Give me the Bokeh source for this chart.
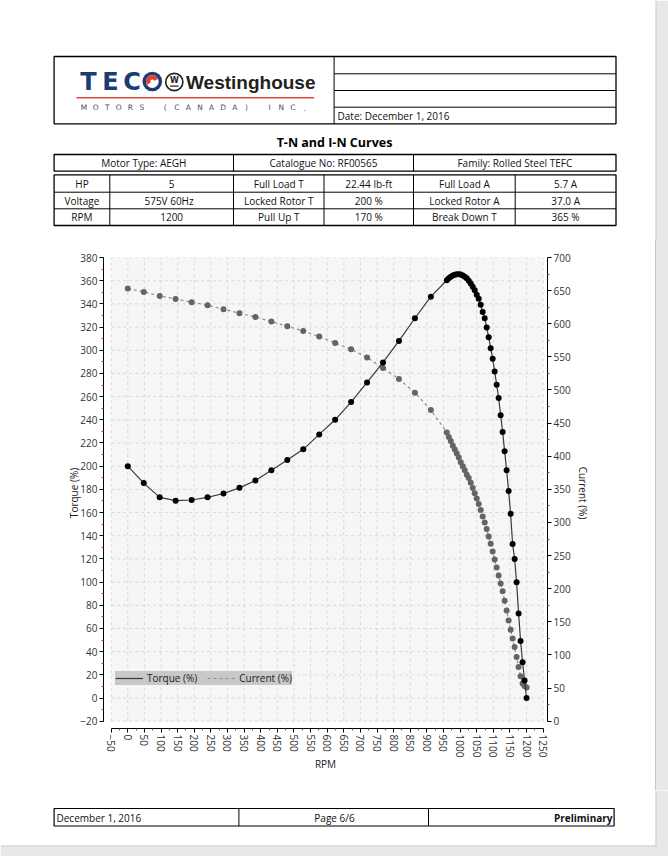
from bokeh.plotting import figure
from bokeh.models import Range1d, LinearAxis, FixedTicker, BoxAnnotation, Legend, LegendItem
from bokeh.embed import file_html
from bokeh.resources import INLINE
from bokeh.core.properties import value

FONT = "Open Sans"

# ---------------- data ----------------
rpm = [0, 48, 96, 144, 192, 240, 288, 336, 384, 432, 480, 528, 576, 624, 672, 720, 768, 816, 864, 912,
       960, 966, 972, 978, 984, 990, 996, 1002, 1008, 1014, 1020, 1026, 1032, 1038, 1044, 1050, 1056,
       1062, 1068, 1074, 1080, 1086, 1092, 1098, 1104, 1110, 1116, 1122, 1128, 1134, 1140, 1146, 1152,
       1158, 1164, 1170, 1176, 1182, 1188, 1194, 1200]

torque_pct = [200.0, 185.4, 173.1, 170.2, 170.8, 173.1, 176.4, 181.3, 187.6, 196.4, 205.3, 214.5, 227.4,
              240.0, 255.3, 272.2, 289.5, 308.0, 327.6, 346.2,
              360.4, 362.2, 363.3, 364.5, 365.1, 365.6, 365.6, 365.3, 364.5, 363.3, 362.2, 359.9, 357.6,
              354.7, 351.8, 347.8, 344.4, 339.2, 332.9, 327.7, 319.7, 311.3, 301.8, 292.7, 281.7, 270.3,
              258.7, 244.0, 229.4, 212.8, 196.4, 178.5, 159.0, 132.9, 119.9, 99.8, 72.8, 49.2, 30.9,
              15.1, 0.0]

current_pct = [653.2, 648.0, 642.0, 637.5, 632.5, 628.0, 622.0, 616.0, 610.0, 603.3, 596.2, 589.1, 580.6,
               571.0, 561.5, 549.0, 533.2, 516.6, 496.0, 469.8,
               436, 429, 423, 416, 410, 404, 398, 391, 385, 379, 372, 367, 360, 352, 344, 336, 328, 319,
               309, 300, 290, 279, 268, 256, 244, 232, 220, 208, 196, 182, 167, 152, 138, 125, 112, 97,
               82, 68, 57, 53, 51]

x_ticks = list(range(-50, 1251, 50))
x_minor = list(range(-25, 1250, 50))
torque_ticks = list(range(-20, 381, 20))
torque_minor = list(range(-10, 380, 20))
current_ticks = list(range(0, 701, 50))
current_minor = list(range(25, 700, 50))

series_names = ["Torque (%)", "Current (%)"]

title_text = "T-N and I-N Curves"
date_text = "Date: December 1, 2016"
table1 = ["Motor Type: AEGH", "Catalogue No: RF00565", "Family: Rolled Steel TEFC"]
table2 = [
    ["HP", "5", "Full Load T", "22.44 lb-ft", "Full Load A", "5.7 A"],
    ["Voltage", "575V   60Hz", "Locked Rotor T", "200 %", "Locked Rotor A", "37.0 A"],
    ["RPM", "1200", "Pull Up T", "170 %", "Break Down T", "365 %"],
]
footer = ["December 1, 2016", "Page 6/6", "Preliminary"]

# ---------------- helpers ----------------
PW = 668
BAND_X = 656      # start of the grey page edge (right)
BAND_Y = 846      # start of the grey page edge (bottom)
BAND_C = "#e8e8e8"
EDGE_C = "#c4c4c4"


def page_fig(y_top, y_bot):
    p = figure(width=PW, height=y_bot - y_top, x_range=Range1d(0, PW), y_range=Range1d(y_bot, y_top),
               toolbar_location=None, output_backend="svg", x_axis_type=None, y_axis_type=None,
               min_border=0, outline_line_color=None, title=None)
    p.background_fill_color = "white"
    p.border_fill_color = "white"
    p.grid.visible = False
    p.quad(left=[BAND_X], right=[PW], top=[y_top], bottom=[y_bot], fill_color=BAND_C, line_color=None)
    p.segment(x0=[BAND_X - 0.5], y0=[y_top], x1=[BAND_X - 0.5], y1=[min(y_bot, BAND_Y)],
              line_color=EDGE_C, line_width=1)
    return p


def txt(p, xs, ys, texts, size="10px", align="center", style="normal", color="#111111",
        font=FONT, baseline="middle"):
    p.text(x=xs, y=ys, text=texts, text_font=value(font), text_font_size=size, text_align=align,
           text_baseline=baseline, text_font_style=style, text_color=color)


def hline(p, x0, x1, y, w=1.0, c="black"):
    p.segment(x0=[x0], y0=[y], x1=[x1], y1=[y], line_color=c, line_width=w)


def vline(p, x, y0, y1, w=1.0, c="black"):
    p.segment(x0=[x], y0=[y0], x1=[x], y1=[y1], line_color=c, line_width=w)


def box(p, l, r, t, b, w=1.2):
    p.quad(left=[l], right=[r], top=[t], bottom=[b], fill_color=None, line_color="black", line_width=w)


# ---------------- header ----------------
hdr = page_fig(0, 240)
L, R = 53.6, 615.5
box(hdr, L, R, 56, 123.3, 1.3)
vline(hdr, 333.6, 56, 123.3)
for yy in [73.3, 90, 106.7]:
    hline(hdr, 333.6, R, yy)
txt(hdr, [337], [115], [date_text], align="left")

# logo
navy = "#1b3c74"
txt(hdr, [88, 110, 131.5], [81.5, 81.5, 81.5], ["T", "E", "C"], size="24px", style="bold",
    color=navy, font="DejaVu Sans")
hdr.circle(x=[151.8], y=[81], radius=9.8, fill_color=navy, line_color=None)
hdr.circle(x=[151.8], y=[81], radius=6.4, fill_color="white", line_color=None)
hdr.annular_wedge(x=[151.8], y=[81], inner_radius=2.0, outer_radius=6.4, start_angle=0.4, end_angle=3.7,
                  fill_color="#e2412f", line_color=None)
hdr.circle(x=[173.8], y=[81.5], radius=8.6, fill_color=None, line_color="#222222", line_width=1.6)
txt(hdr, [173.8], [80.0], ["W"], size="8px", style="bold", color="#222222", font="DejaVu Sans")
hline(hdr, 169.5, 178.1, 85.6, 1.2, "#222222")
txt(hdr, [185.5], [81.5], ["Westinghouse"], size="19px", style="bold", align="left",
    color="#231f20", font="Liberation Sans")
hline(hdr, 76, 313.6, 97.3, 1.6, "#e0453a")
motors = list("MOTORS (CANADA) INC.")
mx = [83.5 + i * 11.6 for i in range(len(motors))]
txt(hdr, mx, [107] * len(motors), motors, size="7.5px", color="#505050", font="DejaVu Sans")

# title
txt(hdr, [334], [141.7], [title_text], size="12.5px", style="bold", color="black")

# table 1
box(hdr, L, R, 154, 170.7, 1.3)
for xx in [233, 413]:
    vline(hdr, xx, 154, 170.7)
txt(hdr, [143.3, 323, 514.3], [162.6] * 3, table1)

# table 2
cols = [L, 109.3, 233, 323.5, 413, 514.7, R]
rows = [174.3, 191.7, 208.3, 225]
box(hdr, L, R, rows[0], rows[-1], 1.3)
for xx in cols[1:-1]:
    vline(hdr, xx, rows[0], rows[-1])
for yy in rows[1:-1]:
    hline(hdr, L, R, yy)
for ri, row in enumerate(table2):
    yc = (rows[ri] + rows[ri + 1]) / 2 + 0.3
    xs = [(cols[i] + cols[i + 1]) / 2 for i in range(6)]
    txt(hdr, xs, [yc] * 6, row)

# ---------------- chart ----------------
CH_TOP, CH_BOT = 240, 790
PX0 = 127.3          # page x of rpm 0
SX = 432.0 / 1300.0  # px per rpm
SY = 463.7 / 400.0   # px per torque %
SC = 463.7 / 700.0   # px per current %
FL, FR, FT, FB = 103, 547, 257, 728   # frame in page coords
x_start = (FL - PX0) / SX
x_end = (FR - PX0) / SX
ty_start = -20 - (FB - 720.7) / SY
cy_start = 0 - (FB - 720.7) / SC

ch = figure(width=PW, height=CH_BOT - CH_TOP, x_range=Range1d(x_start, x_end),
            y_range=Range1d(ty_start, 380),
            toolbar_location=None, output_backend="svg", x_axis_type=None, y_axis_type=None,
            min_border_left=FL, min_border_right=PW - FR, min_border_top=FT - CH_TOP,
            min_border_bottom=CH_BOT - FB, outline_line_color=None, title=None,
            styles={"background": "linear-gradient(to right, #ffffff 0px, #ffffff %dpx, %s %dpx, %s %dpx, %s %dpx)"
                    % (BAND_X - 1, EDGE_C, BAND_X - 1, EDGE_C, BAND_X, BAND_C, BAND_X)})
ch.background_fill_color = "white"
ch.border_fill_color = None
ch.extra_y_ranges = {"cur": Range1d(cy_start, 700)}


def style_axis(ax):
    ax.axis_line_color = "black"
    ax.axis_line_width = 1
    ax.major_tick_line_color = "black"
    ax.major_tick_out = 4
    ax.major_tick_in = 0
    ax.minor_tick_line_color = "#e03030"
    ax.minor_tick_out = 2
    ax.minor_tick_in = 0
    ax.major_label_text_font = FONT
    ax.major_label_text_font_size = "10px"
    ax.major_label_text_color = "#333333"
    ax.major_label_standoff = 2
    ax.axis_label_text_font = FONT
    ax.axis_label_text_font_size = "10px"
    ax.axis_label_text_font_style = "normal"
    ax.axis_label_text_color = "#222222"


xa = LinearAxis(ticker=FixedTicker(ticks=x_ticks, minor_ticks=x_minor), bounds=(-50, 1250),
                axis_label="RPM", major_label_orientation="vertical")
style_axis(xa)
xa.axis_label_standoff = -3
ch.add_layout(xa, "below")

ya = LinearAxis(ticker=FixedTicker(ticks=torque_ticks, minor_ticks=torque_minor), bounds=(-20, 380),
                axis_label="Torque (%)")
style_axis(ya)
ya.axis_label_standoff = -4
ch.add_layout(ya, "left")

ya2 = LinearAxis(y_range_name="cur", ticker=FixedTicker(ticks=current_ticks, minor_ticks=current_minor),
                 bounds=(0, 700), axis_label="Current (%)")
style_axis(ya2)
ya2.axis_label_standoff = 2
ch.add_layout(ya2, "right")

ch.add_layout(BoxAnnotation(left=-50, right=1250, bottom=-20, top=380, fill_color="#f6f6f6",
                            fill_alpha=1, line_color=None, level="underlay"))

grid_c = "#d9d9d9"
ch.segment(x0=x_ticks, y0=[-20] * len(x_ticks), x1=x_ticks, y1=[380] * len(x_ticks),
           line_color=grid_c, line_dash="3 3", line_width=1)
ch.segment(x0=[-50] * len(torque_ticks), y0=torque_ticks, x1=[1250] * len(torque_ticks), y1=torque_ticks,
           line_color=grid_c, line_dash="3 3", line_width=1)

cline = ch.line(rpm, current_pct, y_range_name="cur", line_color="#8c8c8c", line_dash="3 3", line_width=1.2)
ch.scatter(rpm, current_pct, y_range_name="cur", size=6, fill_color="#646464", line_color=None)
tline = ch.line(rpm, torque_pct, line_color="#3a3a3a", line_width=1.2)
ch.scatter(rpm, torque_pct, size=6, fill_color="black", line_color=None)

legend = Legend(items=[LegendItem(label=series_names[0], renderers=[tline]),
                       LegendItem(label=series_names[1], renderers=[cline])],
                orientation="horizontal", location=(115 - FL, FB - 685),
                background_fill_color="#c8c8c8", background_fill_alpha=1, border_line_color=None,
                label_text_font=FONT, label_text_font_size="10px", label_text_color="#222222",
                glyph_width=28, glyph_height=14, label_height=14, padding=5, spacing=10, margin=0,
                label_standoff=4)
ch.add_layout(legend)

# ---------------- footer ----------------
ftr = page_fig(CH_BOT, 856)
ftr.quad(left=[0], right=[PW], top=[BAND_Y], bottom=[856], fill_color=BAND_C, line_color=None)
hline(ftr, 0, BAND_X, BAND_Y - 0.5, 1, EDGE_C)
box(ftr, 53.6, 613.6, 808, 825.5, 1.2)
vline(ftr, 238.4, 808, 825.5)
vline(ftr, 428, 808, 825.5)
txt(ftr, [56], [817], [footer[0]], align="left")
txt(ftr, [334], [817], [footer[1]])
txt(ftr, [612], [817], [footer[2]], align="right", style="bold")

open("out.html", "w").write(file_html([hdr, ch, ftr], INLINE))
